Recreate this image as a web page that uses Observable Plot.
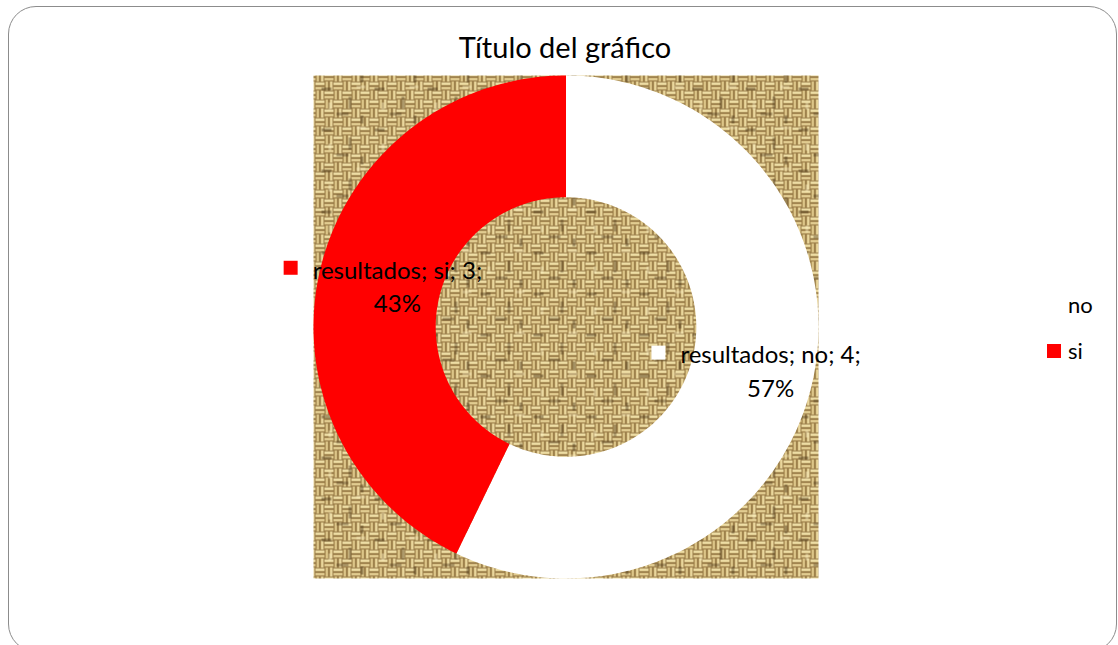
<!DOCTYPE html>
<html><head><meta charset="utf-8">
<script src="https://cdn.jsdelivr.net/npm/d3@7"></script>
<script src="https://cdn.jsdelivr.net/npm/@observablehq/plot@0.6"></script>
<style>
body{margin:0;background:#fff;}
#wrap{position:relative;width:1118px;height:645px;overflow:hidden;font-family:Lato,"Open Sans",sans-serif;color:#000;}
#border{position:absolute;left:8px;top:6px;width:1109px;height:646px;border:1.5px solid #8c8c8c;border-radius:28px;box-sizing:border-box;}
#title{position:absolute;left:0;width:1130px;top:32px;text-align:center;font-size:29px;line-height:29px;}
#chart{position:absolute;left:0;top:0;}
.leg{position:absolute;left:1047px;font-size:22px;line-height:22px;display:flex;align-items:center;}
.leg i{display:inline-block;width:14px;height:14px;margin-right:7px;}
</style></head>
<body>
<svg width="0" height="0" style="position:absolute">
  <defs>
    <pattern id="burlap" patternUnits="userSpaceOnUse" width="18" height="18">
      <rect width="18" height="18" fill="#7a5c2e"/>
      <g>
        <rect x="0" y="0.6" width="9" height="3.4" fill="#d8c184"/>
        <rect x="0" y="1.4" width="9" height="1.5" fill="#f4e6b0"/>
        <rect x="0" y="5.1" width="9" height="3.3" fill="#cdb273"/>
        <rect x="0" y="5.9" width="9" height="1.4" fill="#ecd9a0"/>
      </g>
      <g transform="translate(18,0) rotate(90)">
        <rect x="0" y="0.6" width="9" height="3.4" fill="#d2b97b"/>
        <rect x="0" y="1.4" width="9" height="1.5" fill="#f0e0a8"/>
        <rect x="0" y="5.1" width="9" height="3.3" fill="#c6aa6a"/>
        <rect x="0" y="5.9" width="9" height="1.4" fill="#e7d398"/>
      </g>
      <g transform="translate(9,9) rotate(90)">
        <rect x="0" y="0.6" width="9" height="3.4" fill="#d2b97b"/>
        <rect x="0" y="1.4" width="9" height="1.5" fill="#f0e0a8"/>
        <rect x="0" y="5.1" width="9" height="3.3" fill="#c6aa6a"/>
        <rect x="0" y="5.9" width="9" height="1.4" fill="#e7d398"/>
      </g>
      <g transform="translate(9,9)">
        <rect x="0" y="0.6" width="9" height="3.4" fill="#d8c184"/>
        <rect x="0" y="1.4" width="9" height="1.5" fill="#f4e6b0"/>
        <rect x="0" y="5.1" width="9" height="3.3" fill="#cdb273"/>
        <rect x="0" y="5.9" width="9" height="1.4" fill="#ecd9a0"/>
      </g>
    </pattern>
    <pattern id="burlap2" patternUnits="userSpaceOnUse" width="53" height="41">
      <rect x="3" y="5" width="10" height="3" fill="#3e2a10" opacity="0.4"/>
      <rect x="30" y="14" width="3" height="12" fill="#3e2a10" opacity="0.35"/>
      <rect x="18" y="30" width="12" height="3" fill="#3e2a10" opacity="0.35"/>
      <rect x="42" y="33" width="3" height="8" fill="#3e2a10" opacity="0.4"/>
      <rect x="10" y="20" width="3" height="7" fill="#fff4c8" opacity="0.4"/>
      <rect x="38" y="3" width="9" height="3" fill="#fff4c8" opacity="0.35"/>
    </pattern>
  </defs>
</svg>
<div id="wrap">
  <div id="border"></div>
  <div id="title">Título del gráfico</div>
  <div id="chart"></div>
  <div class="leg" style="top:294px"><i style="background:#ffffff"></i>no</div>
  <div class="leg" style="top:340px"><i style="background:#ff0000"></i>si</div>
</div>
<script>
// ---- data ----
const seriesName = "resultados";
const categories = ["no", "si"];
const values = [4, 3];
const colors = ["#ffffff", "#ff0000"];

// ---- geometry (derived) ----
const innerR = 0.516, outerR = 1;
const total = d3.sum(values);
let acc = 0;
const slices = categories.map((c, i) => {
  const a0 = acc / total * 2 * Math.PI;
  acc += values[i];
  const a1 = acc / total * 2 * Math.PI;
  return {cat: c, value: values[i], a0, a1, pct: Math.round(values[i] / total * 100)};
});
const ringPts = [];
for (const s of slices) {
  const n = Math.max(2, Math.ceil((s.a1 - s.a0) / (Math.PI / 180)));
  for (let k = 0; k <= n; k++) {
    const a = s.a0 + (s.a1 - s.a0) * k / n;
    ringPts.push({cat: s.cat, x: outerR * Math.sin(a), y: outerR * Math.cos(a)});
  }
  for (let k = n; k >= 0; k--) {
    const a = s.a0 + (s.a1 - s.a0) * k / n;
    ringPts.push({cat: s.cat, x: innerR * Math.sin(a), y: innerR * Math.cos(a)});
  }
}
const fontSize = 24, lineH = 1.4, fontFam = "Lato";
const ctx = document.createElement("canvas").getContext("2d");
ctx.font = `${fontSize}px ${fontFam}`;
const labels = slices.map(s => {
  const am = (s.a0 + s.a1) / 2, rm = (innerR + outerR) / 2;
  const line1 = `${seriesName}; ${s.cat}; ${s.value};`;
  const w = ctx.measureText(line1).width;
  return {cat: s.cat, x: rm * Math.sin(am), y: rm * Math.cos(am),
          text: `${line1}\n${s.pct}%`, keyDx: 18 - w / 2 - 15 - 7};
});

const plot = Plot.plot({
  width: 1118, height: 645,
  marginLeft: 313, marginRight: 300, marginTop: 75, marginBottom: 67,
  x: {domain: [-1, 1], axis: null},
  y: {domain: [-1, 1], axis: null},
  color: {domain: categories, range: colors},
  style: {background: "transparent", overflow: "visible"},
  marks: [
    Plot.frame({fill: "url(#burlap)", stroke: "none"}),
    Plot.frame({fill: "url(#burlap2)", stroke: "none"}),
    Plot.line(ringPts, {x: "x", y: "y", z: "cat", fill: "cat", stroke: "none"}),
    ...labels.map(l => Plot.dot([l], {x: "x", y: "y", fill: "cat", symbol: "square", r: 14 / Math.sqrt(Math.PI),
                                       dx: l.keyDx, dy: -lineH * fontSize / 2, stroke: "none"})),
    Plot.text(labels, {x: "x", y: "y", text: "text", dx: 18, lineHeight: lineH,
                       fontSize: fontSize, fontFamily: fontFam, fill: "#000", textAnchor: "middle"})
  ]
});
document.getElementById("chart").appendChild(plot);
</script>
</body></html>
